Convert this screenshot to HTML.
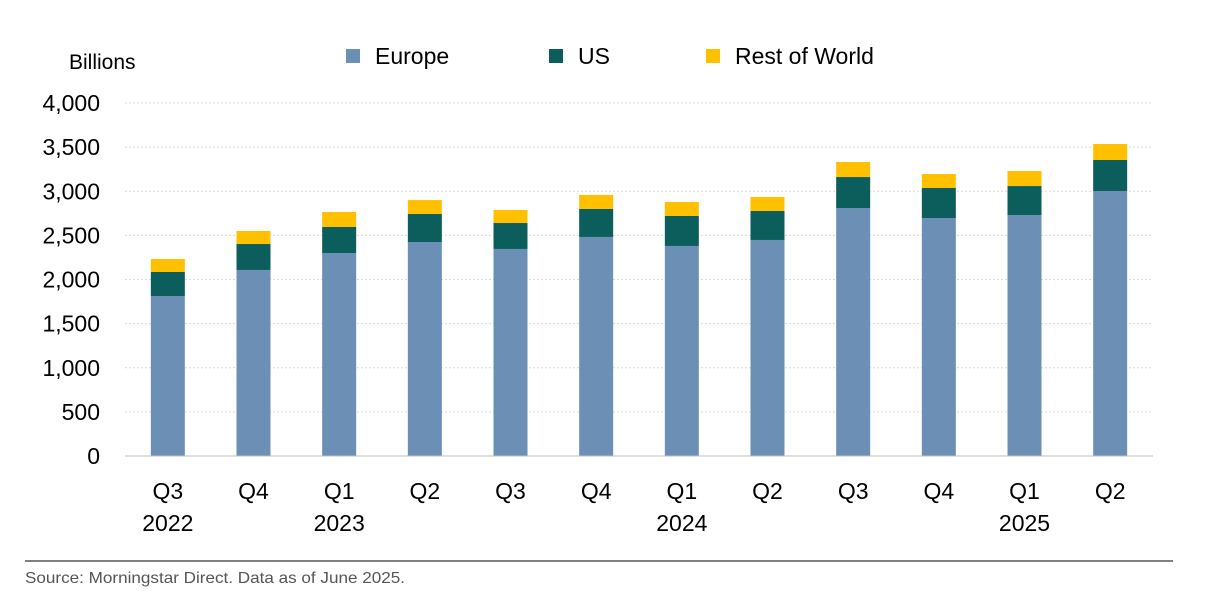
<!DOCTYPE html>
<html><head><meta charset="utf-8"><style>
body{margin:0;background:#fff;width:1222px;height:612px;overflow:hidden;font-family:"Liberation Sans",sans-serif}
</style></head><body>
<svg id="chart" width="1222" height="612" style="position:absolute;left:0;top:0"></svg>
<script>
const categories=["Q3","Q4","Q1","Q2","Q3","Q4","Q1","Q2","Q3","Q4","Q1","Q2"];
const years=["2022","","2023","","","","2024","","","","2025",""];
const europe=[1813,2108,2300,2425,2346,2482,2380,2448,2810,2697,2731,3003];
const us=[272,294,295,317,294,317,340,328,351,340,328,351];
const rest=[147,148,170,158,148,159,158,159,170,158,170,181];
const yTicks=[0,500,1000,1500,2000,2500,3000,3500,4000];
const tickLabels=["0","500","1,000","1,500","2,000","2,500","3,000","3,500","4,000"];
const seriesNames=["Europe","US","Rest of World"];
const colors=["#6b8fb5","#0b5e5b","#ffc000"];

const svg=document.getElementById('chart');
const NS="http://www.w3.org/2000/svg";
const x0=125,x1=1153,yBase=456,yTop=103,yMax=4000;
const y=v=>yBase-(v/yMax)*(yBase-yTop);
const step=(x1-x0)/categories.length;
const xc=i=>x0+step*(i+0.5);
const bw=34;
function mk(tag,attrs,text){const e=document.createElementNS(NS,tag);for(const k in attrs)e.setAttribute(k,attrs[k]);if(text!==undefined)e.textContent=text;svg.appendChild(e);return e;}

yTicks.forEach((t,i)=>{
  if(t>0){const g=mk('line',{x1:x0,x2:x1,y1:y(t),y2:y(t),stroke:'#d9d9d9','stroke-width':1,'stroke-dasharray':'2,2'});
  
  }
  const l=mk('text',{x:100,y:y(t)+8,'text-anchor':'end','font-size':23,fill:'#000'},tickLabels[i]);
  
  
});
const yl=mk('text',{x:69,y:69,'font-size':21,fill:'#000'},'Billions');



categories.forEach((c,i)=>{
  const segs=[europe[i],us[i],rest[i]];let acc=0;
  segs.forEach((v,s)=>{
    const r=mk('rect',{x:xc(i)-bw/2,y:y(acc+v),width:bw,height:y(acc)-y(acc+v),fill:colors[s]});
    
    
    acc+=v;
  });
  const t=mk('text',{x:xc(i),y:499,'text-anchor':'middle','font-size':23,fill:'#000'},c);
  
  
  if(years[i]){const yy=mk('text',{x:xc(i),y:531,'text-anchor':'middle','font-size':23,fill:'#000'},years[i]);
  
  }
});
const ax=mk('line',{x1:x0,x2:x1,y1:yBase,y2:yBase,stroke:'#bfbfbf','stroke-width':1});



const lx=[346,549,706];
seriesNames.forEach((n,s)=>{
  const r=mk('rect',{x:lx[s],y:49,width:14,height:14,fill:colors[s]});
  
  
  const t=mk('text',{x:lx[s]+29,y:64,'font-size':23,fill:'#000'},n);
  
  
});
const sl=mk('line',{x1:25,x2:1173,y1:561,y2:561,stroke:'#000','stroke-width':1});


const src=mk('text',{x:25,y:583,'font-size':16,fill:'#555','textLength':380,'lengthAdjust':'spacingAndGlyphs'},'Source: Morningstar Direct. Data as of June 2025.');


</script>
</body></html>
